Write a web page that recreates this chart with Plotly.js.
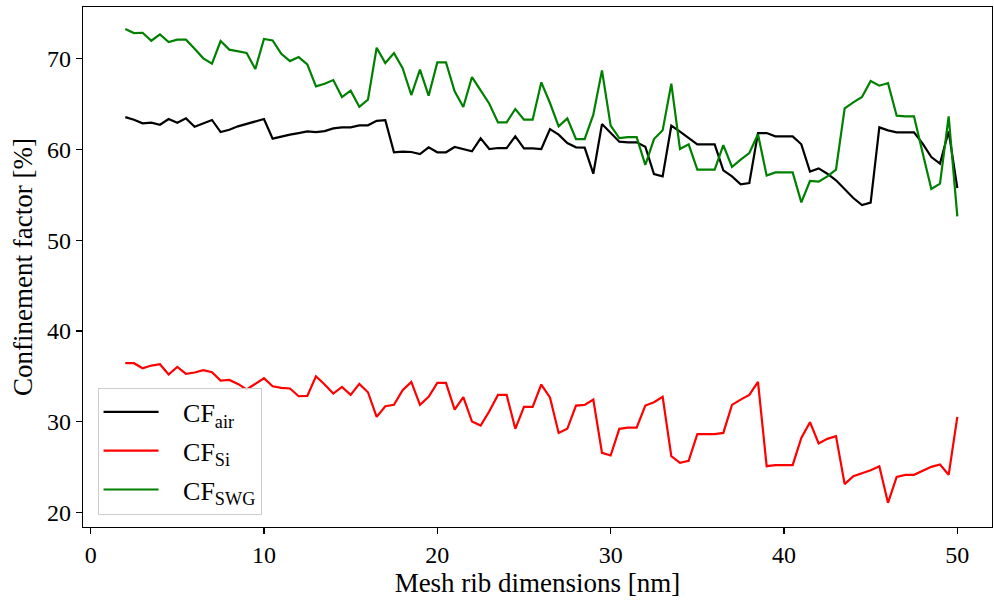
<!DOCTYPE html>
<html>
<head>
<meta charset="utf-8">
<script src="https://cdn.plot.ly/plotly-3.0.1.min.js"></script>
<style>
  html, body { margin: 0; padding: 0; background: #ffffff; }
  #chart { width: 994px; height: 601px; }
</style>
</head>
<body>
<div id="chart"></div>
<script>
// Mesh rib dimensions [nm]: 2 to 50 in steps of 0.5
const meshRib = [
  2, 2.5, 3, 3.5, 4, 4.5, 5, 5.5, 6, 6.5, 7, 7.5, 8, 8.5, 9, 9.5, 10, 10.5, 11, 11.5,
  12, 12.5, 13, 13.5, 14, 14.5, 15, 15.5, 16, 16.5, 17, 17.5, 18, 18.5, 19, 19.5, 20, 20.5, 21, 21.5,
  22, 22.5, 23, 23.5, 24, 24.5, 25, 25.5, 26, 26.5, 27, 27.5, 28, 28.5, 29, 29.5, 30, 30.5, 31, 31.5,
  32, 32.5, 33, 33.5, 34, 34.5, 35, 35.5, 36, 36.5, 37, 37.5, 38, 38.5, 39, 39.5, 40, 40.5, 41, 41.5,
  42, 42.5, 43, 43.5, 44, 44.5, 45, 45.5, 46, 46.5, 47, 47.5, 48, 48.5, 49, 49.5, 50
];

const cfAir = [
  63.57, 63.28, 62.88, 62.95, 62.73, 63.36, 62.95, 63.43, 62.51, 62.88, 63.25, 61.92, 62.18, 62.55, 62.84, 63.10, 63.36, 61.19, 61.45, 61.63,
  61.81, 62.00, 61.92, 62.03, 62.33, 62.44, 62.44, 62.66, 62.66, 63.15, 63.22, 59.69, 59.76, 59.72, 59.50, 60.24, 59.69, 59.69, 60.27, 60.05,
  59.80, 61.23, 60.05, 60.16, 60.16, 61.45, 60.12, 60.12, 60.05, 62.25, 61.63, 60.71, 60.24, 60.20, 57.33, 62.80, 61.81, 60.86, 60.79, 60.79,
  60.31, 57.30, 57.04, 62.62, 61.96, 61.26, 60.57, 60.57, 60.57, 57.70, 57.04, 56.16, 56.31, 61.81, 61.81, 61.45, 61.45, 61.45, 60.57, 57.56,
  57.92, 57.33, 56.60, 55.57, 54.65, 53.88, 54.14, 62.44, 62.11, 61.89, 61.89, 61.89, 60.64, 59.17, 58.44, 62.00, 55.76
];

const cfSi = [
  36.45, 36.45, 35.90, 36.19, 36.34, 35.20, 36.04, 35.27, 35.42, 35.68, 35.45, 34.54, 34.61, 34.17, 33.55, 34.21, 34.79, 33.91, 33.73, 33.66,
  32.81, 32.85, 35.01, 34.10, 33.10, 33.84, 32.96, 34.17, 33.25, 30.54, 31.71, 31.86, 33.47, 34.39, 31.86, 32.74, 34.28, 34.28, 31.34, 32.70,
  30.02, 29.58, 31.16, 32.96, 32.96, 29.22, 31.64, 31.64, 34.10, 32.67, 28.77, 29.22, 31.78, 31.86, 32.44, 26.57, 26.28, 29.22, 29.36, 29.36,
  31.78, 32.15, 32.74, 26.20, 25.47, 25.69, 28.63, 28.63, 28.63, 28.77, 31.86, 32.44, 32.96, 34.39, 25.10, 25.21, 25.21, 25.21, 28.22, 29.95,
  27.60, 28.11, 28.41, 23.12, 24.00, 24.30, 24.66, 25.10, 21.06, 23.93, 24.15, 24.15, 24.59, 25.03, 25.29, 24.15, 30.54
];

const cfSwg = [
  73.27, 72.83, 72.86, 71.98, 72.68, 71.84, 72.10, 72.10, 71.10, 70.04, 69.45, 71.95, 71.00, 70.85, 70.63, 68.86, 72.17, 72.02, 70.55, 69.74,
  70.18, 69.38, 66.95, 67.25, 67.65, 65.78, 66.48, 64.71, 65.49, 71.21, 69.52, 70.62, 68.97, 66.00, 68.79, 65.93, 69.60, 69.60, 66.40, 64.68,
  67.98, 66.51, 65.04, 62.99, 62.99, 64.46, 63.28, 63.28, 67.40, 65.12, 62.55, 63.43, 61.15, 61.15, 63.83, 68.72, 62.62, 61.26, 61.37, 61.37,
  58.29, 61.15, 62.11, 67.25, 60.05, 60.57, 57.78, 57.78, 57.78, 60.49, 58.07, 58.88, 59.61, 61.67, 57.12, 57.48, 57.48, 57.48, 54.17, 56.53,
  56.45, 57.04, 57.78, 64.53, 65.19, 65.78, 67.54, 67.03, 67.32, 63.72, 63.65, 63.65, 59.61, 55.65, 56.23, 63.65, 52.63
];

const seriesNames = ["CF<sub>air</sub>", "CF<sub>Si</sub>", "CF<sub>SWG</sub>"];
const xTicks = [0, 10, 20, 30, 40, 50];
const yTicks = [20, 30, 40, 50, 60, 70];

const FONT = "'Liberation Serif', 'DejaVu Serif', serif";

const colors = ["#000000", "#ff0000", "#008000"];
const yData = [cfAir, cfSi, cfSwg];
const traces = yData.map((ys, k) => ({
  x: meshRib, y: ys,
  name: "&nbsp;&nbsp;&nbsp;" + seriesNames[k],
  legendgroup: "g" + k,
  mode: "lines",
  line: { color: colors[k], width: 2.2 }
}));

const axisCommon = {
  showline: true, linecolor: "#000000", linewidth: 1.2, mirror: true,
  ticks: "outside", ticklen: 6, tickwidth: 1.2, tickcolor: "#000000",
  showgrid: false, zeroline: false,
  tickfont: { family: FONT, size: 24, color: "#000000" }
};

const layout = {
  width: 994, height: 601,
  margin: { l: 83, r: 2, t: 7, b: 74 },
  paper_bgcolor: "#ffffff", plot_bgcolor: "#ffffff",
  font: { family: FONT, color: "#000000" },
  showlegend: true,
  xaxis: Object.assign({}, axisCommon, {
    range: [-0.44, 52.0], tickvals: xTicks, ticktext: xTicks.map(String),
    title: { text: "Mesh rib dimensions [nm]", font: { family: FONT, size: 27, color: "#000000" }, standoff: 4 }
  }),
  yaxis: Object.assign({}, axisCommon, {
    range: [18.4, 75.7], tickvals: yTicks, ticktext: yTicks.map(String),
    title: { text: "Confinement factor [%]", font: { family: FONT, size: 27, color: "#000000" }, standoff: 6 }
  }),
  legend: {
    x: 0.016, y: 0.024, xanchor: "left", yanchor: "bottom",
    traceorder: "grouped", tracegroupgap: 2,
    bgcolor: "rgba(255,255,255,0.85)", bordercolor: "#cccccc", borderwidth: 1,
    font: { family: FONT, size: 26, color: "#000000" },
    itemwidth: 55
  }
};

Plotly.newPlot("chart", traces, layout, { displayModeBar: false, staticPlot: true });
</script>
</body>
</html>
